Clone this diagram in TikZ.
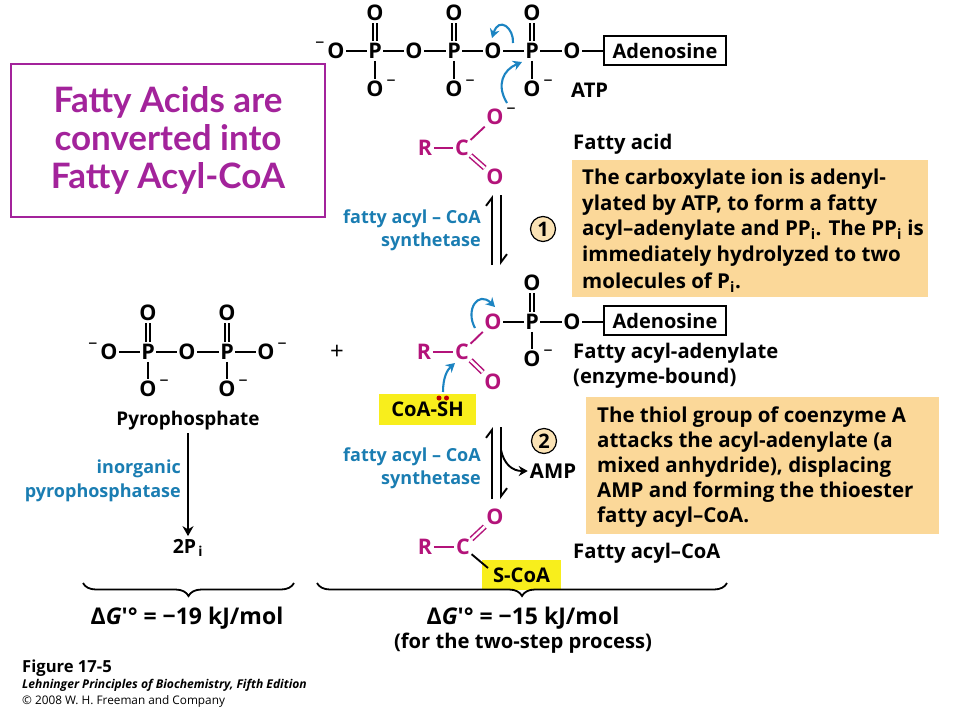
\documentclass[tikz,border=0pt]{standalone}
\usepackage{fontspec}
\setmainfont{Open Sans}
\newfontfamily\titlefont{Lato}
\usetikzlibrary{arrows.meta,decorations.pathreplacing}
\definecolor{acylred}{HTML}{B3137A}
\definecolor{arrowblue}{HTML}{1C84C2}
\definecolor{enzblue}{HTML}{1A7DB2}
\definecolor{notebox}{HTML}{FBD899}
\definecolor{notecirc}{HTML}{FBE3B5}
\definecolor{codeyel}{HTML}{F8EE1C}
\definecolor{titlepur}{HTML}{A3239B}
\newcommand{\fsz}[1]{\fontsize{#1}{#1}\selectfont}
\newcommand{\chgr}{\rlap{\smash{\raisebox{.5em}{\fsz{18}\mdseries\,–}}}}
\newcommand{\chgl}{\llap{\smash{\raisebox{.5em}{\fsz{18}\mdseries–\,}}}}
\tikzset{
  atom/.style={inner xsep=1.5pt,inner ysep=2pt,font=\fsz{21.5}\bfseries},
  bond/.style={line width=1.9pt},
  dbond/.style={line width=1.5pt,double,double distance=2.6pt},
  adbox/.style={draw,line width=1.3pt,minimum width=122pt,minimum height=29pt,inner sep=0pt,font=\fsz{20}\bfseries},
  lbl/.style={anchor=west,inner sep=0pt,yshift=-1.5pt,font=\fsz{20.2}\bfseries},
  enz/.style={anchor=east,inner sep=0pt,yshift=-1.5pt,text=enzblue,font=\fsz{18}\bfseries},
  notefill/.style={fill=notebox,anchor=north west,inner sep=0pt},
  noteline/.style={anchor=west,inner sep=0pt,yshift=-1.5pt,font=\fsz{20.5}\bfseries},
  stepnum/.style={circle,draw,line width=1.2pt,fill=notecirc,minimum size=25pt,inner sep=0pt,font=\fsz{20}\bfseries},
  curly/.style={-{Stealth[length=9pt,width=10pt]},line width=2.1pt,arrowblue},
  eqfwd/.style={line width=1.9pt,-{Straight Barb[left,length=8pt,width=12pt]}},
  gline/.style={inner sep=0pt,font=\fsz{23}\bfseries},
  bracket/.style={line width=1.8pt,decorate,decoration={brace,mirror,amplitude=13pt}}
}
\begin{document}
\begin{tikzpicture}[x=1pt,y=-1pt]
  \useasboundingbox (0,0) rectangle (960,720);

  % title box
  \node[draw=titlepur,line width=1.4pt,minimum width=314pt,minimum height=153pt,inner sep=0pt,
        text=titlepur,align=center,font=\titlefont\fontsize{35}{38}\selectfont\bfseries] (title) at (168,140.5)
        {Fatty Acids are\\converted into\\Fatty Acyl-CoA};

  % note boxes go under the text
  \node[notefill,minimum width=356pt,minimum height=137pt] (note1) at (572,160) {};
  \node[notefill,minimum width=353pt,minimum height=137pt] (note2) at (586,397) {};
  \node[fill=codeyel,minimum width=97pt,minimum height=31pt,inner sep=0pt,font=\fsz{20.2}\bfseries] (cosh) at (427.5,409.5) {CoA-SH};
  \node[fill=codeyel,minimum width=79pt,minimum height=30pt,inner sep=0pt,font=\fsz{20.2}\bfseries] (scoa) at (521.5,575) {S-CoA};

  % ATP
  \begin{scope}[every node/.style={atom}]
    \node (atpa) at (336,51) {\chgl O};
    \node (atpb) at (375,51) {P};
    \node (atpc) at (414,51) {O};
    \node (atpd) at (454,51) {P};
    \node (atpe) at (493,51) {O};
    \node (atpf) at (532,51) {P};
    \node (atpg) at (572,51) {O};
    \node (atph) at (375,13) {O};
    \node (atpi) at (454,13) {O};
    \node (atpj) at (532,13) {O};
    \node (atpk) at (375,89) {O\chgr};
    \node (atpl) at (454,89) {O\chgr};
    \node (atpm) at (532,89) {O\chgr};
  \end{scope}
  \node[adbox] (adena) at (665,50.5) {Adenosine};
  \begin{scope}[every edge/.style={draw,bond}]
    \path (atpa) edge (atpb);
    \path (atpb) edge (atpc);
    \path (atpc) edge (atpd);
    \path (atpd) edge (atpe);
    \path (atpe) edge (atpf);
    \path (atpf) edge (atpg);
    \path (atpg) edge (atpg -| adena.west);
    \path (atpb) edge (atpk);
    \path (atpd) edge (atpl);
    \path (atpf) edge (atpm);
  \end{scope}
  \begin{scope}[every edge/.style={draw,dbond}]
    \path (atpb) edge (atph);
    \path (atpd) edge (atpi);
    \path (atpf) edge (atpj);
  \end{scope}

  % fatty acid
  \begin{scope}[every node/.style={atom,text=acylred}]
    \node (acr) at (425,148) {R};
    \node (acc) at (462,148) {C};
    \node (aco) at (495,117) {O\textcolor{black}{\chgr}};
    \node (acd) at (495,177) {O};
  \end{scope}
  \begin{scope}[every edge/.style={draw=acylred,bond}]
    \path (acr) edge (acc);
    \path (acc) edge (aco);
  \end{scope}
  \begin{scope}[every edge/.style={draw=acylred,dbond}]
    \path (acc) edge (acd);
  \end{scope}

  % fatty acyl-adenylate
  \begin{scope}[every node/.style={atom,text=acylred}]
    \node (adr) at (424,352) {R};
    \node (adc) at (462,352) {C};
    \node (ado) at (493,322) {O};
    \node (add) at (493,382) {O};
  \end{scope}
  \begin{scope}[every node/.style={atom}]
    \node (adp) at (532,322) {P};
    \node (ade) at (572,322) {O};
    \node (adf) at (532,283) {O};
    \node (adg) at (532,359) {O\chgr};
  \end{scope}
  \node[adbox] (adenb) at (665,320.5) {Adenosine};
  \begin{scope}[every edge/.style={draw=acylred,bond}]
    \path (adr) edge (adc);
    \path (adc) edge (ado);
  \end{scope}
  \begin{scope}[every edge/.style={draw=acylred,dbond}]
    \path (adc) edge (add);
  \end{scope}
  \begin{scope}[every edge/.style={draw,bond}]
    \path (ado) edge (adp);
    \path (adp) edge (ade);
    \path (ade) edge (ade -| adenb.west);
    \path (adp) edge (adg);
  \end{scope}
  \begin{scope}[every edge/.style={draw,dbond}]
    \path (adp) edge (adf);
  \end{scope}

  % fatty acyl-CoA
  \begin{scope}[every node/.style={atom,text=acylred}]
    \node (far) at (425,547) {R};
    \node (fac) at (463,547) {C};
    \node (fao) at (495,517) {O};
  \end{scope}
  \coordinate (fas) at (488,568);
  \begin{scope}[every edge/.style={draw=acylred,bond}]
    \path (far) edge (fac);
  \end{scope}
  \begin{scope}[every edge/.style={draw=acylred,dbond}]
    \path (fac) edge (fao);
  \end{scope}
  \draw[bond] (fac) -- (fas);

  % pyrophosphate
  \begin{scope}[every node/.style={atom}]
    \node (ppa) at (109,352) {\chgl O};
    \node (ppb) at (148,352) {P};
    \node (ppc) at (187,352) {O};
    \node (ppd) at (227,352) {P};
    \node (ppe) at (266,352) {O\chgr};
    \node (ppf) at (148,313) {O};
    \node (ppg) at (227,313) {O};
    \node (pph) at (148,389) {O\chgr};
    \node (ppi) at (227,389) {O\chgr};
  \end{scope}
  \begin{scope}[every edge/.style={draw,bond}]
    \path (ppa) edge (ppb);
    \path (ppb) edge (ppc);
    \path (ppc) edge (ppd);
    \path (ppd) edge (ppe);
    \path (ppb) edge (pph);
    \path (ppd) edge (ppi);
  \end{scope}
  \begin{scope}[every edge/.style={draw,dbond}]
    \path (ppb) edge (ppf);
    \path (ppd) edge (ppg);
  \end{scope}
  \node[inner sep=0pt,font=\fsz{18.9}\bfseries] (ppname) at (188,420.5) {Pyrophosphate};
  \node[inner sep=0pt,font=\fsz{19.5}\bfseries] (twopi) at (188,548) {2P\textsubscript{\,i}};
  \coordinate (pptop) at (188,433);
  \draw[bond,shorten >=3pt,-{Stealth[length=10pt,width=11pt]}] (pptop) -- (twopi.north);
  \node[enz] (inorg) at (181,467) {inorganic};
  \node[enz] (ppase) at (181,491) {pyrophosphatase};
  \node[inner sep=0pt,font=\fsz{24}] (plus) at (337,352) {+};

  % labels
  \node[lbl] (atpname) at (571,89) {ATP};
  \node[lbl] (faname) at (573,143) {Fatty acid};
  \node[lbl] (fadname) at (573,352) {Fatty acyl-adenylate};
  \node[lbl] (enzb) at (573,377) {(enzyme-bound)};
  \node[lbl] (fcname) at (573,552) {Fatty acyl--CoA};
  \node[enz] (enza) at (481,217) {fatty acyl -- CoA};
  \node[enz] (syna) at (481,240) {synthetase};
  \node[enz] (enzc) at (481,455) {fatty acyl -- CoA};
  \node[enz] (sync) at (481,478) {synthetase};
  \node[stepnum] (stepa) at (543,229) {1};
  \node[stepnum] (stepb) at (544,441) {2};
  \node[inner sep=0pt,font=\fsz{20.4}\bfseries] (amp) at (553,471) {AMP};

  % equilibrium arrows
  \coordinate (eqa) at (492,265);
  \coordinate (eqb) at (492,195);
  \coordinate (eqc) at (501,195);
  \coordinate (eqd) at (501,265);
  \coordinate (eqe) at (492,499);
  \coordinate (eqf) at (492,427);
  \coordinate (eqg) at (501,427);
  \coordinate (eqh) at (501,499);
  \draw[eqfwd] (eqa) -- (eqb);
  \draw[eqfwd] (eqc) -- (eqd);
  \draw[eqfwd] (eqe) -- (eqf);
  \draw[eqfwd] (eqg) -- (eqh);
  \coordinate (ampout) at (501,450);
  \draw[bond,shorten >=2pt,-{Stealth[length=9pt,width=10pt]}] (ampout) .. controls (504,464) and (512,471) .. (amp.west);

  % electron arrows
  \coordinate (cua) at (513,43);
  \coordinate (cub) at (492,38);
  \coordinate (cuc) at (507,103);
  \coordinate (cud) at (522,62);
  \coordinate (cue) at (475,328);
  \coordinate (cuf) at (495,307);
  \coordinate (cug) at (443,392);
  \coordinate (cuh) at (455,363);
  \draw[curly] (cua) .. controls (514,28) and (499,16) .. (cub);
  \draw[curly] (cuc) .. controls (496,85) and (503,70) .. (cud);
  \draw[curly] (cue) .. controls (465,310) and (478,290) .. (cuf);
  \draw[curly] (cug) .. controls (443,378) and (447,370) .. (cuh);
  \node[circle,fill=red!75!black,minimum size=5pt,inner sep=0pt] (lpa) at (439,398) {};
  \node[circle,fill=red!75!black,minimum size=5pt,inner sep=0pt] (lpb) at (446.5,398) {};

  % note texts
  \begin{scope}[every node/.style={noteline}]
    \node (noa) at (582,178) {The carboxylate ion is adenyl-};
    \node (nob) at (582,204) {ylated by ATP, to form a fatty};
    \node (noc) at (582,229) {acyl--adenylate and PP\textsubscript{i}. The PP\textsubscript{i} is};
    \node (nod) at (582,255) {immediately hydrolyzed to two};
    \node (noe) at (582,281) {molecules of P\textsubscript{i}.};
    \node (nof) at (597,416) {The thiol group of coenzyme A};
    \node (nog) at (597,441) {attacks the acyl-adenylate (a};
    \node (noh) at (597,466) {mixed anhydride), displacing};
    \node (noi) at (597,491) {AMP and forming the thioester};
    \node (noj) at (597,516) {fatty acyl--CoA.};
  \end{scope}

  % braces
  \coordinate (bra) at (83,583);
  \coordinate (brb) at (294,583);
  \coordinate (brc) at (317,583);
  \coordinate (brd) at (727,583);
  \draw[bracket] (bra) -- (brb);
  \draw[bracket] (brc) -- (brd);
  \node[gline] (dga) at (187,618) {Δ\textit{G}′° = −19 kJ/mol};
  \node[gline] (dgb) at (523,618) {Δ\textit{G}′° = −15 kJ/mol};
  \node[inner sep=0pt,font=\fsz{20.2}\bfseries] (dgc) at (523,643) {(for the two-step process)};

  % caption
  \node[anchor=west,inner sep=0pt,font=\fsz{16.6}\bfseries] (figa) at (22,668) {Figure 17-5};
  \node[anchor=west,inner sep=0pt,font=\fsz{12.1}\bfseries\itshape] (figb) at (22,685) {Lehninger Principles of Biochemistry, Fifth Edition};
  \node[anchor=west,inner sep=0pt,font=\fsz{11.8}] (figc) at (22,701) {© 2008 W. H. Freeman and Company};
\end{tikzpicture}
\end{document}
